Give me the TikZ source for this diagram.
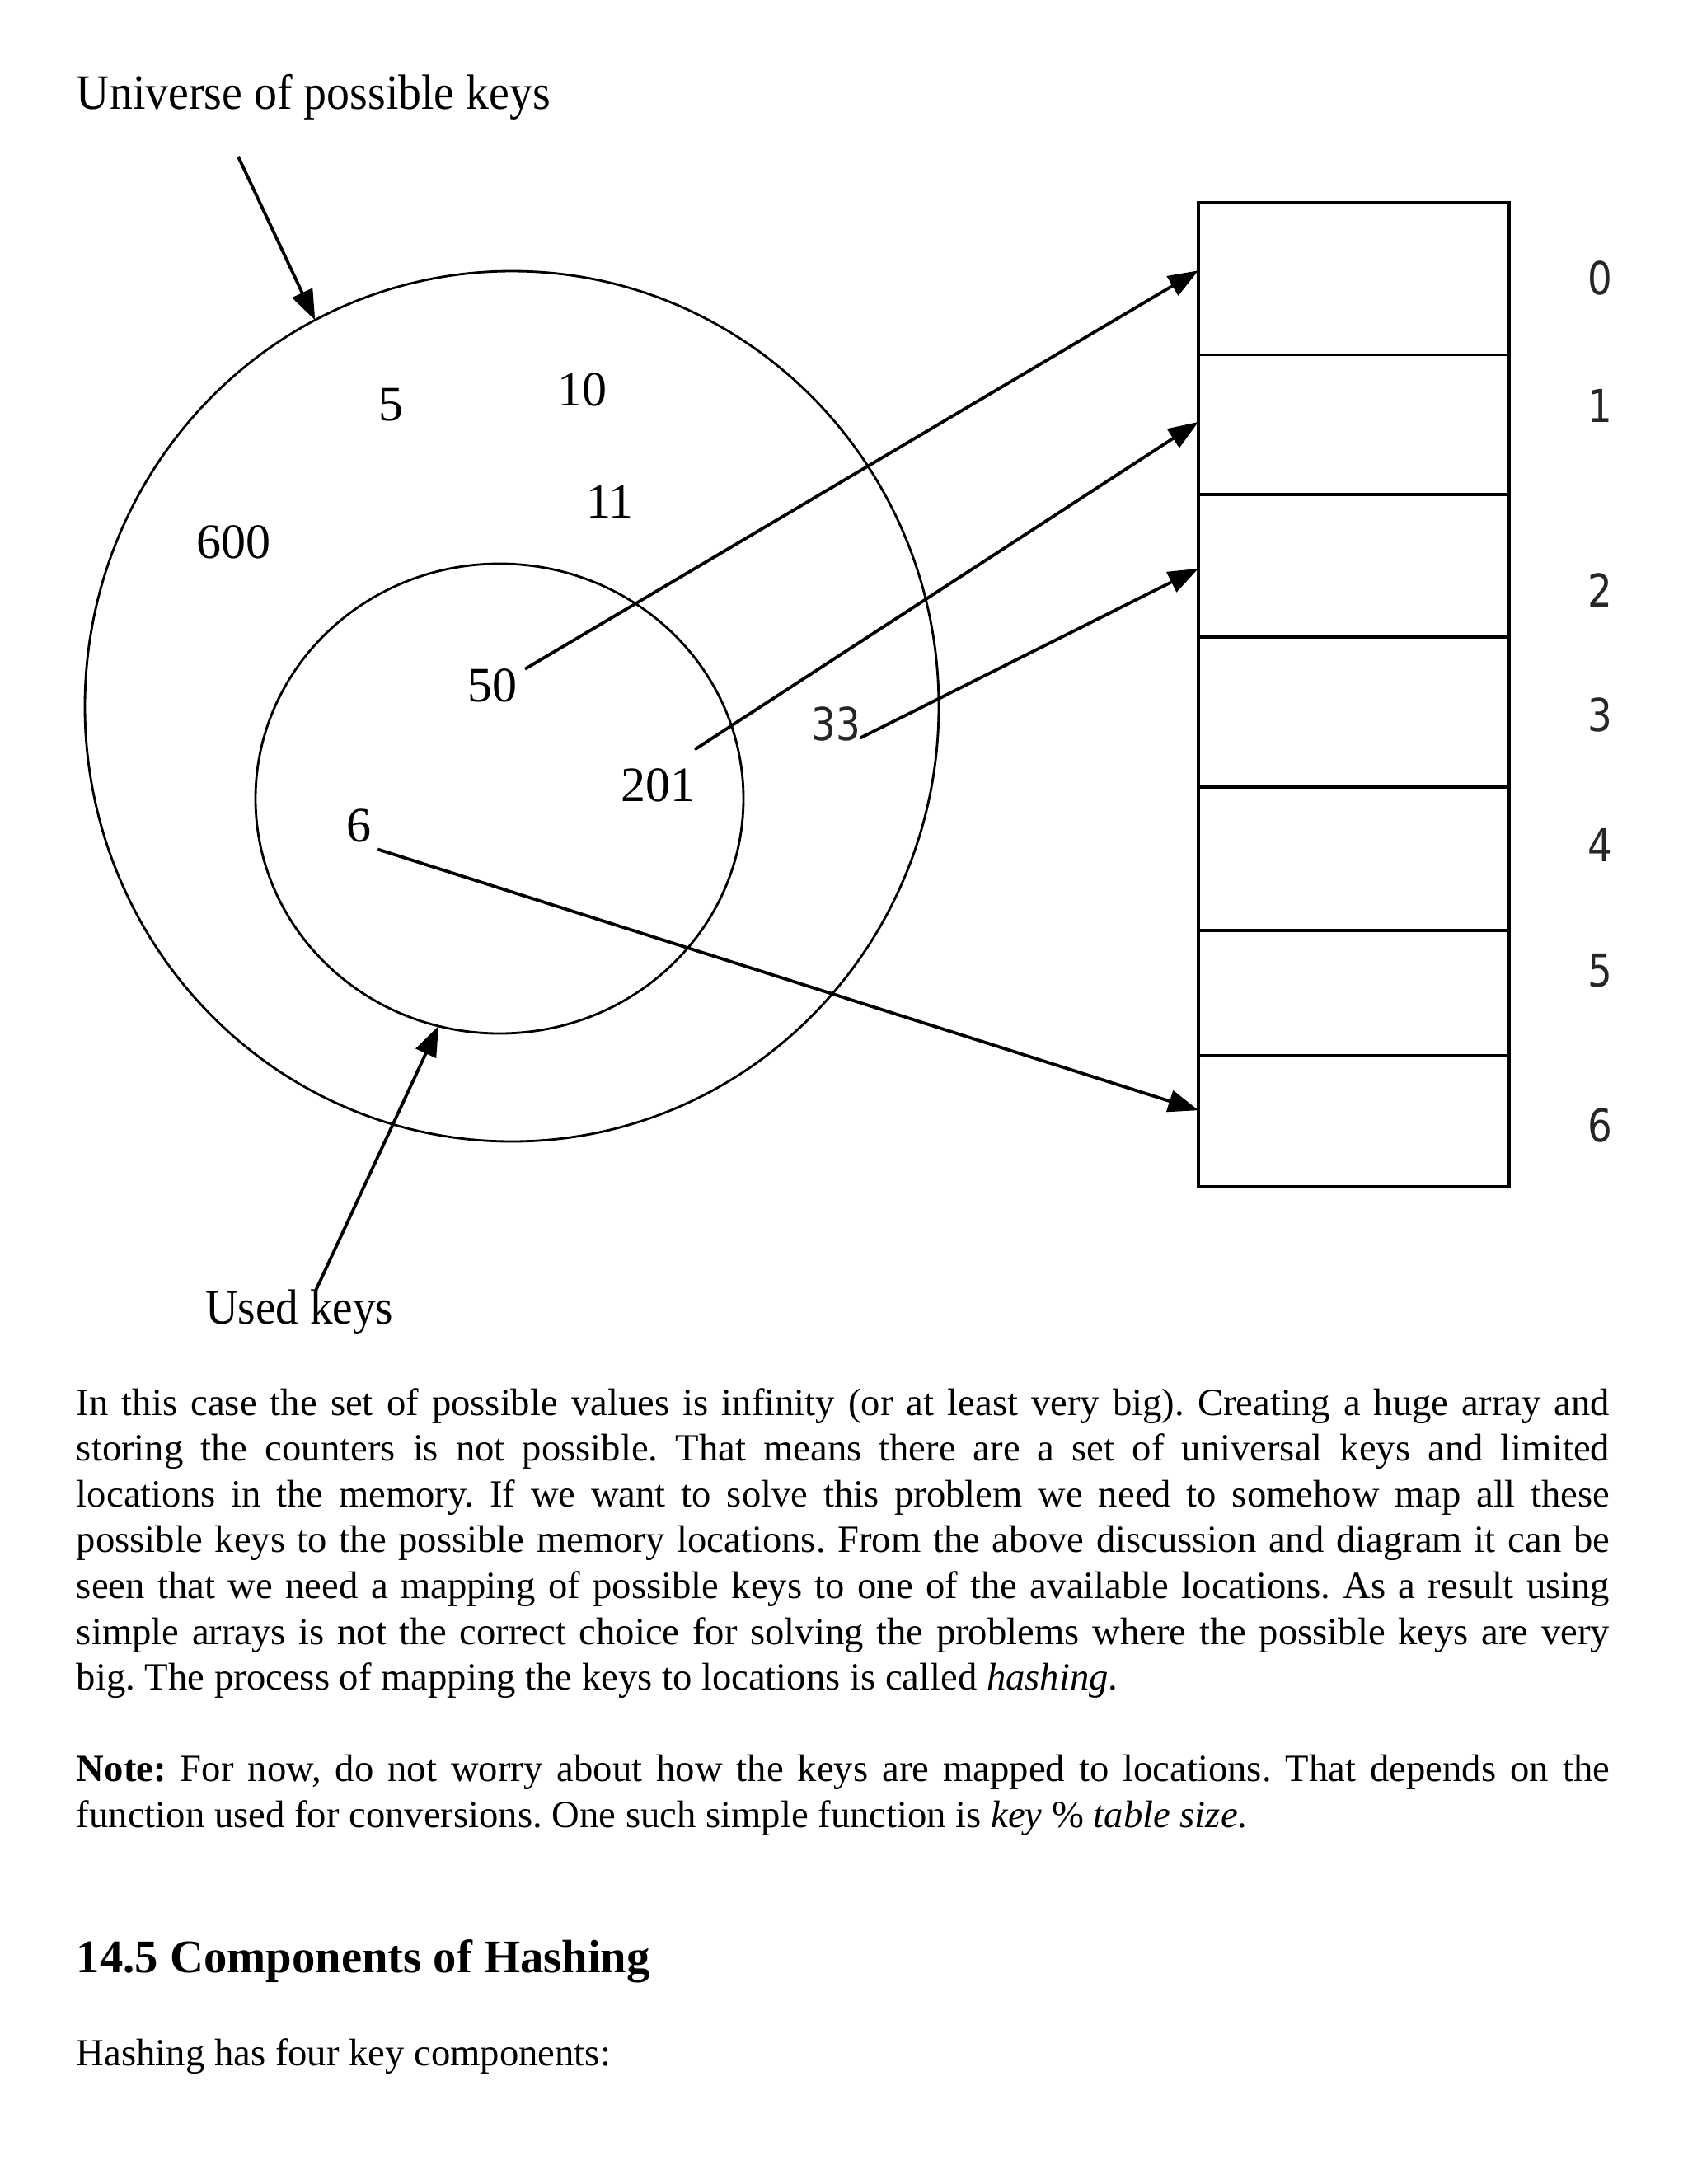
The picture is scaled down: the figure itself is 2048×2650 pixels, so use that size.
\documentclass[tikz,border=0pt]{standalone}
\usepackage{fontspec}
\setmainfont{Liberation Serif}
\newfontfamily\idxfont{DejaVu Sans}
\usetikzlibrary{shapes.geometric,arrows.meta}
\frenchspacing
\begin{document}
\begin{tikzpicture}[x=0.3pt,y=-0.3pt,
  every node/.style={inner sep=0pt, outer sep=0pt},
  ring/.style={draw, ellipse, line width=0.85pt},
  cell/.style={draw, rectangle, line width=1.05pt, minimum width=113.1pt},
  maparrow/.style={line width=1.15pt, -{Triangle[length=11pt,width=8pt]}},
  keylabel/.style={font=\fontsize{18}{20}\selectfont},
  idx/.style={font=\idxfont\fontsize{16.5}{18}\selectfont, text=black!85},
  bodyline/.style={anchor=base west, font=\fontsize{14}{16.6}\selectfont},
]
\useasboundingbox (0,0) rectangle (2048,2650);
\fill[white] (0,0) rectangle (2048,2650);

% circles
\node[ring, minimum width=310.8pt, minimum height=316.8pt] (outer) at (621,857) {};
\node[ring, minimum width=177.6pt, minimum height=171pt] (inner) at (606,969) {};

% labels
\node[anchor=base west, font=\fontsize{18}{20}\selectfont] (univ) at (93,132) {\scalebox{0.93}[1]{Universe of possible keys}};
\node[anchor=base west, font=\fontsize{18}{20}\selectfont] (used) at (249,1606) {\scalebox{0.92}[1]{Used keys}};
\coordinate (ustart) at (289,190);
\coordinate (kstart) at (383,1566);
\draw[maparrow] (ustart) -- (outer.117);
\draw[maparrow] (kstart) -- (inner.255);

% keys
\node[keylabel] (k5) at (474,491) {5};
\node[keylabel] (k10) at (706,473) {10};
\node[keylabel] (k11) at (740,609) {11};
\node[keylabel] (k600) at (283,658) {600};
\node[keylabel] (k50) at (597,832) {50};
\node[keylabel] (k201) at (798,953) {201};
\node[keylabel] (k6) at (435,1002) {6};
\node[idx] (k33) at (1014,878) {\scalebox{0.85}[1]{33}};

% table
\node[cell, minimum height=55.35pt] (row0) at (1642.5,338.25) {};
\node[cell, minimum height=50.85pt] (row1) at (1642.5,515.25) {};
\node[cell, minimum height=51.9pt] (row2) at (1642.5,686.5) {};
\node[cell, minimum height=54.6pt] (row3) at (1642.5,864) {};
\node[cell, minimum height=52.2pt] (row4) at (1642.5,1042) {};
\node[cell, minimum height=45.6pt] (row5) at (1642.5,1205) {};
\node[cell, minimum height=47.7pt] (row6) at (1642.5,1360.5) {};

\node[idx] (i0) at (1941,337) {\scalebox{0.85}[1]{0}};
\node[idx] (i1) at (1941,492) {\scalebox{0.85}[1]{1}};
\node[idx] (i2) at (1941,716) {\scalebox{0.85}[1]{2}};
\node[idx] (i3) at (1941,867) {\scalebox{0.85}[1]{3}};
\node[idx] (i4) at (1941,1025) {\scalebox{0.85}[1]{4}};
\node[idx] (i5) at (1941,1178) {\scalebox{0.85}[1]{5}};
\node[idx] (i6) at (1941,1365) {\scalebox{0.85}[1]{6}};

% mapping arrows
\draw[maparrow] ([xshift=3pt]k50.north east) -- ([yshift=3pt]row0.west);
\draw[maparrow] ([yshift=7pt]k201.north east) -- ([yshift=1pt]row1.west);
\draw[maparrow] ([yshift=1pt]k33.south east) -- ([yshift=-1pt]row2.west);
\draw[maparrow] ([xshift=2.5pt,yshift=-2.5pt]k6.south east) -- ([yshift=4pt]row6.west);

% body text
\node[bodyline] (p1) at (93,1717) {\makebox[558pt][s]{In this case the set of possible values is infinity (or at least very big). Creating a huge array and}};
\node[bodyline] (p2) at (93,1772) {\makebox[558pt][s]{storing the counters is not possible. That means there are a set of universal keys and limited}};
\node[bodyline] (p3) at (93,1828) {\makebox[558pt][s]{locations in the memory. If we want to solve this problem we need to somehow map all these}};
\node[bodyline] (p4) at (93,1883) {\makebox[558pt][s]{possible keys to the possible memory locations. From the above discussion and diagram it can be}};
\node[bodyline] (p5) at (93,1939) {\makebox[558pt][s]{seen that we need a mapping of possible keys to one of the available locations. As a result using}};
\node[bodyline] (p6) at (93,1995) {\makebox[558pt][s]{simple arrays is not the correct choice for solving the problems where the possible keys are very}};
\node[bodyline] (p7) at (93,2050) {big. The process of mapping the keys to locations is called \textit{hashing}.};

\node[bodyline] (n1) at (93,2161) {\makebox[558pt][s]{\textbf{Note:} For now, do not worry about how the keys are mapped to locations. That depends on the}};
\node[bodyline] (n2) at (93,2217) {function used for conversions. One such simple function is \textit{key} \% \textit{table size}.};

\node[anchor=base west, font=\fontsize{17}{20}\selectfont\bfseries] (head) at (93,2393) {14.5 Components of Hashing};
\node[bodyline] (h1) at (93,2506) {Hashing has four key components:};
\end{tikzpicture}
\end{document}
